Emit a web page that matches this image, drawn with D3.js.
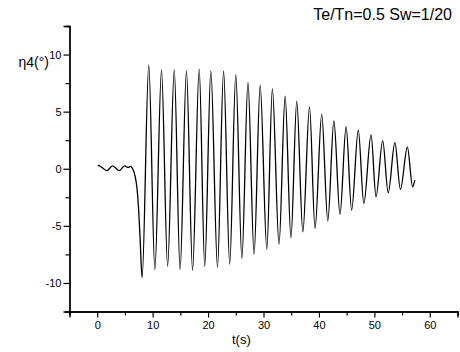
<!DOCTYPE html>
<html>
<head>
<meta charset="utf-8">
<script src="https://cdn.jsdelivr.net/npm/d3@7/dist/d3.min.js"></script>
<style>
  html, body { margin: 0; padding: 0; background: #fff; }
  svg { display: block; }
  text { font-family: "Liberation Sans", Arial, sans-serif; fill: #000; }
</style>
</head>
<body>
<svg id="chart" width="460" height="352"></svg>
<script>
// ---- data ----
const timeValues = [
  0.1, 0.6, 1.75, 2.76, 4.0, 4.95, 5.6, 5.95, 6.5, 6.85, 7.15, 7.44, 7.75,
  8.1, 9.3, 10.4, 11.6, 12.7, 13.9, 14.95, 16.1, 17.2, 18.4, 19.4, 20.5,
  21.7, 22.8, 23.9, 25.0, 26.1, 27.2, 28.3, 29.4, 30.6, 31.6, 32.8, 33.9,
  34.95, 36.0, 37.1, 38.3, 39.3, 40.5, 41.6, 42.7, 43.8, 44.9, 45.9, 47.1,
  48.1, 49.4, 50.3, 51.5, 52.5, 53.7, 54.7, 55.96, 56.9, 57.3
];
const rollValues = [
  0.32, 0.2, -0.17, 0.26, -0.17, 0.26, 0.1, 0.2, -0.1, -0.7, -1.6, -3.33, -6.25,
  -9.53, 9.1, -8.82, 8.66, -8.54, 8.66, -8.82, 8.57, -8.89, 8.72, -8.54, 8.57,
  -8.6, 8.57, -8.36, 8.24, -7.86, 7.56, -7.48, 7.29, -7.04, 7.0, -6.6, 6.35,
  -6.05, 5.9, -5.53, 5.42, -5.23, 4.77, -4.56, 4.18, -4.0, 3.68, -3.62, 3.39,
  -3.04, 2.96, -2.46, 2.46, -2.1, 2.28, -1.81, 1.9, -1.58, -1.0
];
const xMajorTicks = [0, 10, 20, 30, 40, 50, 60];
const xMinorTicks = [-5, 5, 15, 25, 35, 45, 55, 65];
const yMajorTicks = [-10, -5, 0, 5, 10];
const yMinorTicks = [-7.5, -2.5, 2.5, 7.5, 12.5];
const titleText = "Te/Tn=0.5 Sw=1/20";
const xLabel = "t(s)";
const yLabel = "η4(°)";

// ---- drawing ----
const svg = d3.select("#chart");
const x = d3.scaleLinear().domain([-5, 65]).range([69.5, 457.5]);
const y = d3.scaleLinear().domain([-12.5, 12.5]).range([311.5, 26]);

const points = timeValues.map((t, i) => [t, rollValues[i]]);
const fmt = d => String(d);

// axes
const gx = svg.append("g").attr("transform", `translate(0,${y(-12.5)})`);
gx.call(d3.axisBottom(x).tickValues(xMajorTicks).tickSize(6).tickPadding(4).tickFormat(fmt));
const gxm = svg.append("g").attr("transform", `translate(0,${y(-12.5)})`);
gxm.call(d3.axisBottom(x).tickValues(xMinorTicks).tickSize(4).tickFormat(""));

const gy = svg.append("g").attr("transform", `translate(${x(-5)},0)`);
gy.call(d3.axisLeft(y).tickValues(yMajorTicks).tickSize(6).tickPadding(2).tickFormat(fmt));
const gym = svg.append("g").attr("transform", `translate(${x(-5)},0)`);
gym.call(d3.axisLeft(y).tickValues(yMinorTicks).tickSize(4).tickFormat(""));

svg.selectAll(".domain").attr("stroke", "#000").attr("stroke-width", 1.3);
svg.selectAll(".tick line").attr("stroke", "#000").attr("stroke-width", 1.2);
svg.selectAll(".tick text").attr("font-size", 11).attr("font-family", "Liberation Sans, Arial, sans-serif").attr("fill", "#000");

// line
const line = d3.line()
  .x(d => x(d[0]))
  .y(d => y(d[1]))
  .curve(d3.curveMonotoneX);

svg.append("path")
  .datum(points)
  .attr("fill", "none")
  .attr("stroke", "#000")
  .attr("stroke-width", 1.3)
  .attr("stroke-linejoin", "round")
  .attr("d", line);

// labels
svg.append("text")
  .attr("x", 452).attr("y", 20)
  .attr("text-anchor", "end")
  .attr("font-size", 16)
  .text(titleText);

svg.append("text")
  .attr("x", x(26)).attr("y", 344)
  .attr("text-anchor", "middle")
  .attr("font-size", 13)
  .text(xLabel);

svg.append("text")
  .attr("x", 49).attr("y", 67)
  .attr("text-anchor", "end")
  .attr("font-size", 14)
  .text(yLabel);
</script>
</body>
</html>
